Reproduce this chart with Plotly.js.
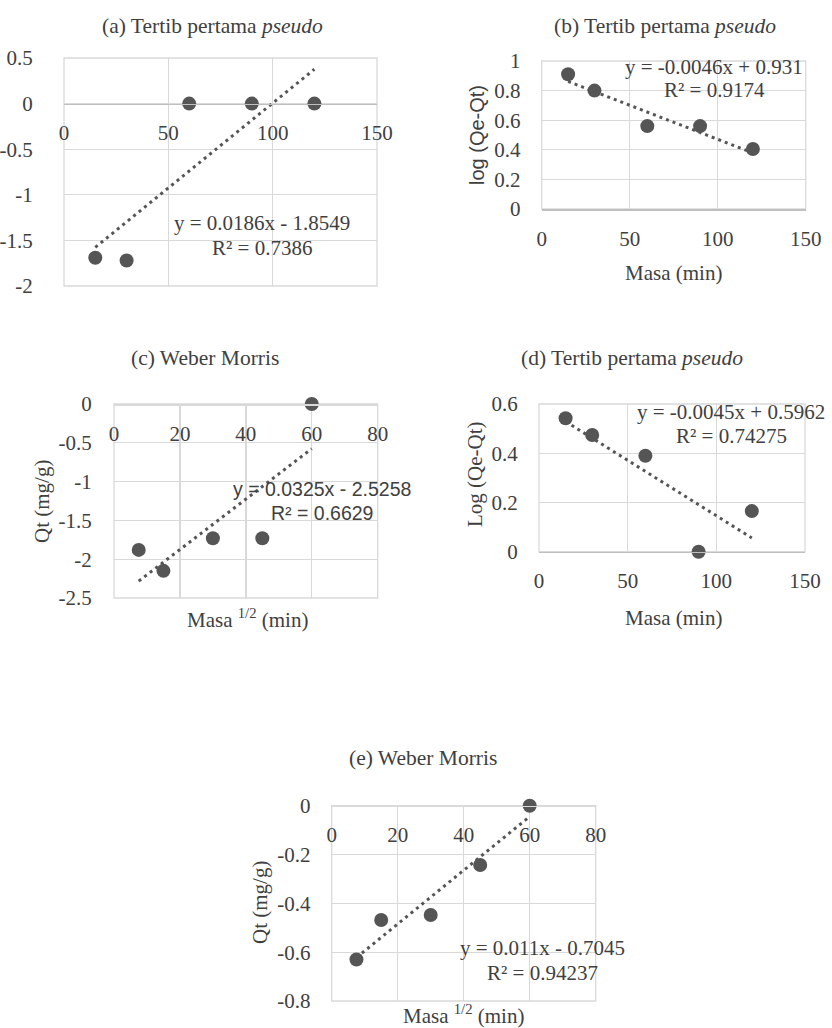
<!DOCTYPE html>
<html>
<head>
<meta charset="utf-8">
<script src="https://cdn.plot.ly/plotly-3.0.1.min.js"></script>
<style>html,body{margin:0;padding:0;background:#fff;}#chart{width:832px;height:1028px;}</style>
</head>
<body>
<div id="chart"></div>
<script>
// ---- data ----
const masaA = [15, 30, 60, 90, 120];
const valA = [-1.69, -1.72, 0, 0, 0];
const trendMasaA = [15, 120];
const trendValA = [-1.576, 0.377];

const masaB = [15, 30, 60, 90, 120];
const valB = [0.91, 0.80, 0.56, 0.56, 0.405];
const trendMasaB = [15, 120];
const trendValB = [0.862, 0.379];

const masaC = [7.5, 15, 30, 45, 60];
const valC = [-1.88, -2.15, -1.73, -1.73, 0];
const trendMasaC = [7.5, 60];
const trendValC = [-2.282, -0.576];

const masaD = [15, 30, 60, 90, 120];
const valD = [0.542, 0.474, 0.39, 0, 0.165];
const trendMasaD = [15, 120];
const trendValD = [0.529, 0.056];

const masaE = [7.5, 15, 30, 45, 60];
const valE = [-0.63, -0.468, -0.448, -0.243, 0];
const trendMasaE = [7.5, 60];
const trendValE = [-0.622, -0.0445];

// tick values / labels
const yTickValsA = [-2, -1.5, -1, -0.5, 0, 0.5];
const yTickTextA = ["-2", "-1.5", "-1", "-0.5", "0", "0.5"];
const yTickValsB = [0, 0.2, 0.4, 0.6, 0.8, 1];
const yTickTextB = ["0", "0.2", "0.4", "0.6", "0.8", "1"];
const yTickValsC = [-2.5, -2, -1.5, -1, -0.5, 0];
const yTickTextC = ["-2.5", "-2", "-1.5", "-1", "-0.5", "0"];
const yTickValsD = [0, 0.2, 0.4, 0.6];
const yTickTextD = ["0", "0.2", "0.4", "0.6"];
const yTickValsE = [-0.8, -0.6, -0.4, -0.2, 0];
const yTickTextE = ["-0.8", "-0.6", "-0.4", "-0.2", "0"];
const xTickValsMasa = [0, 50, 100, 150];
const xTickTextMasa = ["0", "50", "100", "150"];
const xTickValsRoot = [0, 20, 40, 60, 80];
const xTickTextRoot = ["0", "20", "40", "60", "80"];

const titles = [
  "(a) Tertib pertama <i>pseudo</i>",
  "(b) Tertib pertama <i>pseudo</i>",
  "(c) Weber Morris",
  "(d) Tertib pertama <i>pseudo</i>",
  "(e) Weber Morris"
];
const equations = [
  ["y = 0.0186x - 1.8549", "R² = 0.7386"],
  ["y = -0.0046x + 0.931", "R² = 0.9174"],
  ["y = 0.0325x - 2.5258", "R² = 0.6629"],
  ["y = -0.0045x + 0.5962", "R² = 0.74275"],
  ["y = 0.011x - 0.7045", "R² = 0.94237"]
];

// ---- styling ----
const W = 832, H = 1028;
const SERIF = "Liberation Serif, Times New Roman, serif";
const SANS = "Liberation Sans, Arial, sans-serif";
const TXT = "#404040";
const GRID = "#d9d9d9";
const AXL = "#bfbfbf";
const MK = "#555555";
const FS = 21;
const px = v => v / W;
const py = v => 1 - v / H;

// panel boxes in pixels: [left, right, top, bottom]
const boxes = [
  [64, 377, 58, 286],
  [541.7, 805.7, 61, 209],
  [114, 377.7, 404, 598],
  [539, 805, 404, 551.7],
  [331.7, 595.7, 805.7, 1001]
];
const yRanges = [[-2, 0.5], [0, 1], [-2.5, 0], [0, 0.6], [-0.8, 0]];
const yTV = [yTickValsA, yTickValsB, yTickValsC, yTickValsD, yTickValsE];
const yTT = [yTickTextA, yTickTextB, yTickTextC, yTickTextD, yTickTextE];
const xRanges = [[0, 150], [0, 150], [0, 80], [0, 150], [0, 80]];
const xTV = [xTickValsMasa, xTickValsMasa, xTickValsRoot, xTickValsMasa, xTickValsRoot];
const xTT = [xTickTextMasa, xTickTextMasa, xTickTextRoot, xTickTextMasa, xTickTextRoot];
const yGap = [26, 16, 17, 16, 16];

const data = [];
const masas = [masaA, masaB, masaC, masaD, masaE];
const vals = [valA, valB, valC, valD, valE];
const tMasas = [trendMasaA, trendMasaB, trendMasaC, trendMasaD, trendMasaE];
const tVals = [trendValA, trendValB, trendValC, trendValD, trendValE];

const layout = {
  width: W, height: H,
  margin: {l: 0, r: 0, t: 0, b: 0},
  paper_bgcolor: "#fff", plot_bgcolor: "#fff",
  showlegend: false,
  font: {family: SERIF, size: FS, color: TXT},
  annotations: [], shapes: []
};

for (let i = 0; i < 5; i++) {
  const n = i === 0 ? "" : String(i + 1);
  const xa = "x" + n, ya = "y" + n;
  const [l, r, t, b] = boxes[i];
  const xd = [px(l), px(r)];
  const yd = [py(b), py(t)];
  const yr = yRanges[i];
  const zeroPos = yd[0] + (0 - yr[0]) / (yr[1] - yr[0]) * (yd[1] - yd[0]);
  layout["xaxis" + n] = {
    domain: xd, range: xRanges[i], tickmode: "array", tickvals: xTV[i], ticktext: xTT[i],
    anchor: "free", position: zeroPos, side: "bottom",
    showgrid: true, gridcolor: GRID, gridwidth: 1.3,
    zeroline: false, showline: true, linecolor: (i === 2 || i === 4) ? GRID : AXL, linewidth: 1.5,
    ticks: "outside", ticklen: 10, tickcolor: "rgba(0,0,0,0)",
    tickfont: {family: SERIF, size: FS, color: TXT},
    fixedrange: true
  };
  layout["yaxis" + n] = {
    domain: yd, range: yr, tickmode: "array", tickvals: yTV[i], ticktext: yTT[i], anchor: xa,
    showgrid: true, gridcolor: GRID, gridwidth: 1.3,
    zeroline: false, showline: false,
    ticks: "outside", ticklen: yGap[i], tickcolor: "rgba(0,0,0,0)",
    tickfont: {family: SERIF, size: FS, color: TXT},
    fixedrange: true
  };
  layout.shapes.push({
    type: "rect", xref: xa + " domain", yref: ya + " domain",
    x0: 0, x1: 1, y0: 0, y1: 1, line: {color: GRID, width: 1.3}, layer: "below"
  });
  data.push({
    type: "scatter", mode: "lines", x: tMasas[i], y: tVals[i], xaxis: xa, yaxis: ya,
    line: {color: MK, width: 3, dash: "3px,4px"}, hoverinfo: "skip", cliponaxis: false
  });
  data.push({
    type: "scatter", mode: "markers", x: masas[i], y: vals[i], xaxis: xa, yaxis: ya,
    marker: {color: MK, size: 14}, cliponaxis: false
  });
}

// subplot titles
const titlePos = [[213, 26], [665, 26], [205, 358], [632, 358], [422.5, 758]];
titles.forEach((t, i) => {
  layout.annotations.push({text: t, xref: "paper", yref: "paper", x: px(titlePos[i][0]), y: py(titlePos[i][1]),
    xanchor: "center", yanchor: "middle", showarrow: false, font: {family: SERIF, size: FS + 0.5, color: TXT}});
});

// equations
const eqPos = [[262, 223, 248], [714, 67, 90], [321.7, 489, 513], [731, 411.7, 436], [542.5, 948, 972.7]];
equations.forEach((eq, i) => {
  const fam = i === 2 ? SANS : SERIF;
  const sz = i === 2 ? 19.5 : FS;
  for (let k = 0; k < 2; k++) {
    layout.annotations.push({text: eq[k], xref: "paper", yref: "paper", x: px(eqPos[i][0]), y: py(eqPos[i][k + 1]),
      xanchor: "center", yanchor: "middle", showarrow: false, font: {family: fam, size: sz, color: TXT}});
  }
});

// axis titles
const axisTitles = [
  {text: "Masa (min)", x: 673, y: 273, rot: 0, fam: SERIF, sz: FS},
  {text: "log (Qe-Qt)", x: 477, y: 135, rot: -90, fam: SANS, sz: 20},
  {text: "Qt (mg/g)", x: 42, y: 502, rot: -90, fam: SERIF, sz: FS},
  {text: "Masa <sup>1/2</sup> (min)", x: 247, y: 618, rot: 0, fam: SERIF, sz: FS},
  {text: "Log (Qe-Qt)", x: 475, y: 474, rot: -90, fam: SERIF, sz: FS},
  {text: "Masa (min)", x: 673, y: 618, rot: 0, fam: SERIF, sz: FS},
  {text: "Qt (mg/g)", x: 260, y: 903, rot: -90, fam: SERIF, sz: FS},
  {text: "Masa <sup>1/2</sup> (min)", x: 463, y: 1014, rot: 0, fam: SERIF, sz: FS}
];
axisTitles.forEach(a => {
  layout.annotations.push({text: a.text, xref: "paper", yref: "paper", x: px(a.x), y: py(a.y),
    xanchor: "center", yanchor: "middle", textangle: a.rot, showarrow: false,
    font: {family: a.fam, size: a.sz, color: TXT}});
});

Plotly.newPlot("chart", data, layout, {staticPlot: true, displayModeBar: false});
</script>
</body>
</html>
